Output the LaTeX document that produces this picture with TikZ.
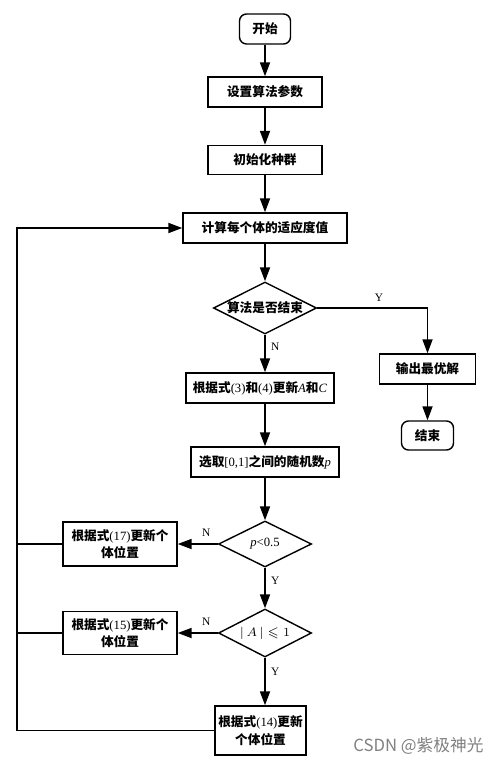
\documentclass[tikz,border=0pt]{standalone}
\usepackage{fontspec}
\usepackage{amssymb}
\setmainfont{Liberation Serif}
\newfontfamily\cjk{Noto Sans CJK SC}
\usetikzlibrary{shapes.geometric, arrows.meta}
\newcommand{\lat}[1]{{\rmfamily\mdseries #1}}

\begin{document}
\begin{tikzpicture}[
	box/.style = {draw, line width = 0.8pt, inner sep = 0pt, align = center, font = \cjk\bfseries\fontsize{7.2}{10}\selectfont},
	term/.style = {box, rounded corners = 4pt},
	cond/.style = {box, diamond, shape aspect = 2},
	arr/.style = {line width = 1pt, -{Triangle[length = 2.8mm, width = 2mm]}},
	lbl/.style = {font = \fontsize{6.5}{7}\selectfont, inner sep = 1pt}
]
	\useasboundingbox (0, 0) rectangle (9.98, -15.28);
	\node[term, minimum width = 1.02cm, minimum height = 0.6cm] (start) at ( 5.3, -0.58 ) {开始};
	\node[box, minimum width = 2.28cm, minimum height = 0.6cm] (set) at ( 5.3, -1.84 ) {设置算法参数};
	\node[box, minimum width = 2.28cm, minimum height = 0.58cm] (init) at ( 5.3, -3.2 ) {初始化种群};
	\node[box, minimum width = 3.28cm, minimum height = 0.6cm] (fit) at ( 5.3, -4.56 ) {计算每个体的适应度值};
	\node[cond, minimum width = 2.06cm, minimum height = 1.04cm] (stop) at ( 5.3, -6.16 ) {算法是否结束};
	\node[box, minimum width = 1.92cm, minimum height = 0.6cm] (best) at ( 8.55, -7.38 ) {输出最优解};
	\node[term, minimum width = 1.04cm, minimum height = 0.58cm] (end) at ( 8.55, -8.71 ) {结束};
	\node[box, minimum width = 2.96cm, minimum height = 0.6cm] (upd) at ( 5.2, -7.76 ) {根据式\lat{(3)}和\lat{(4)}更新\lat{\textit{A}}和\lat{\textit{C}}};
	\node[box, minimum width = 2.96cm, minimum height = 0.6cm] (rand) at ( 5.3, -9.24 ) {选取\lat{[0,1]}之间的随机数\lat{\textit{p}}};
	\node[cond, minimum width = 1.86cm, minimum height = 0.92cm] (pcheck) at ( 5.3, -10.88 ) {\lat{\textit{p}<0.5}};
	\node[box, minimum width = 2.28cm, minimum height = 0.88cm] (b17) at ( 2.4, -10.88 ) {根据式\lat{(17)}更新个\\体位置};
	\node[cond, minimum width = 1.86cm, minimum height = 0.96cm] (acheck) at ( 5.3, -12.66 ) {\lat{$\vert\, A \,\vert \leqslant 1$}};
	\node[box, minimum width = 2.28cm, minimum height = 0.86cm] (b15) at ( 2.4, -12.66 ) {根据式\lat{(15)}更新个\\体位置};
	\node[box, minimum width = 1.82cm, minimum height = 0.98cm] (b14) at ( 5.21, -14.61 ) {根据式\lat{(14)}更新\\个体位置};
	\coordinate (back) at ( 0.34, 0 );
	\node[font = \cjk\fontsize{9.5}{11}\selectfont, text = gray] (mark) at ( 8.37, -14.92 ) {CSDN @紫极神光};

	\draw[arr] (start) -- (set);
	\draw[arr] (set) -- (init);
	\draw[arr] (init) -- (fit);
	\draw[arr] (fit) -- (stop);
	\draw[arr] (stop.east) -| node[lbl, pos = 0.28, above = 2pt] {Y} (best);
	\draw[arr] (best) -- (end);
	\draw[arr] (stop.south) -- node[lbl, pos = 0.33, right = 2pt] {N} (stop.south |- upd.north);
	\draw[arr] (rand.north |- upd.south) -- (rand);
	\draw[arr] (rand) -- (pcheck);
	\draw[arr] (pcheck) -- node[lbl, pos = 0.29, above = 3pt] {N} (b17);
	\draw[arr] (pcheck) -- node[lbl, pos = 0.31, right = 2pt] {Y} (acheck);
	\draw[arr] (acheck) -- node[lbl, pos = 0.29, above = 3pt] {N} (b15);
	\draw[arr] (acheck.south) -- node[lbl, pos = 0.3, right = 2pt] {Y} (acheck.south |- b14.north);
	\draw[arr] (b14.west) -- (b14.west -| back) |- (fit.west);
	\draw[line width = 1pt] (b17.west) -- (b17.west -| back);
	\draw[line width = 1pt] (b15.west) -- (b15.west -| back);
\end{tikzpicture}
\end{document}
